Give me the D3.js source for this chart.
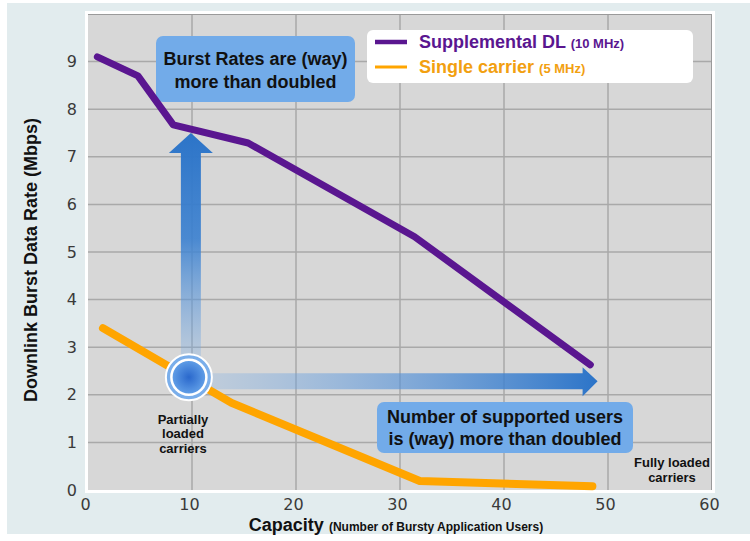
<!DOCTYPE html>
<html>
<head>
<meta charset="utf-8">
<script src="https://cdn.jsdelivr.net/npm/d3@7"></script>
<style>
  html, body { margin: 0; padding: 0; background: #ffffff; }
  svg { display: block; }
</style>
</head>
<body>
<svg id="chart" width="750" height="541"></svg>
<script>
// ---------- data ----------
const xTicks = [0, 10, 20, 30, 40, 50, 60];
const yTicks = [0, 1, 2, 3, 4, 5, 6, 7, 8, 9];
const supplementalX = [0.9, 4.8, 8.2, 15.4, 31.4, 48.3];
const supplementalY = [9.1, 8.7, 7.67, 7.29, 5.32, 2.63];
const singleX = [1.44, 13.8, 31.9, 48.5];
const singleY = [3.4, 1.83, 0.19, 0.08];
const seriesNames = ["Supplemental DL", "Single carrier"];
const seriesUnits = ["(10 MHz)", "(5 MHz)"];
const focusPoint = [9.7, 2.37];     // "Partially loaded carriers"
const burstArrowTipY = 7.5;          // vertical arrow tip (Mbps)
const usersArrowTipX = 49.0;         // horizontal arrow tip (users)

// ---------- layout ----------
const svg = d3.select("#chart");
const plot = { left: 88, right: 712, top: 14, bottom: 490 };
const x = d3.scaleLinear().domain([0, 60]).range([plot.left, plot.right]);
const y = d3.scaleLinear().domain([0, 10]).range([plot.bottom, plot.top]);
const purple = "#5a1690";
const orange = "#ffa500";
const sans = "'Liberation Sans', Arial, sans-serif";

const defs = svg.append("defs");
const vg = defs.append("linearGradient").attr("id", "vgrad")
  .attr("x1", 0).attr("y1", 0).attr("x2", 0).attr("y2", 1);
vg.append("stop").attr("offset", "0%").attr("stop-color", "#2c74c8").attr("stop-opacity", 1);
vg.append("stop").attr("offset", "45%").attr("stop-color", "#3a80d0").attr("stop-opacity", 0.9);
vg.append("stop").attr("offset", "100%").attr("stop-color", "#7fb0e6").attr("stop-opacity", 0.25);
const hg = defs.append("linearGradient").attr("id", "hgrad")
  .attr("x1", 0).attr("y1", 0).attr("x2", 1).attr("y2", 0);
hg.append("stop").attr("offset", "0%").attr("stop-color", "#7fb0e6").attr("stop-opacity", 0.25);
hg.append("stop").attr("offset", "40%").attr("stop-color", "#5d98dc").attr("stop-opacity", 0.55);
hg.append("stop").attr("offset", "100%").attr("stop-color", "#2c74c8").attr("stop-opacity", 1);
const rg = defs.append("radialGradient").attr("id", "core");
rg.append("stop").attr("offset", "0%").attr("stop-color", "#2a68cc");
rg.append("stop").attr("offset", "100%").attr("stop-color", "#62a0e8");

// background panel
svg.append("rect").attr("x", 7).attr("y", 3).attr("width", 743).attr("height", 531)
  .attr("fill", "#e2ecee");

// plot area
svg.append("rect")
  .attr("x", plot.left - 1.5).attr("y", plot.top - 1.5)
  .attr("width", plot.right - plot.left + 3).attr("height", plot.bottom - plot.top + 3)
  .attr("fill", "#d7d7d7").attr("stroke", "#ffffff").attr("stroke-width", 3);

// grid
const grid = svg.append("g").attr("stroke", "#a9a9a9").attr("stroke-width", 1.5);
grid.selectAll("line.h").data(yTicks.filter(d => d > 0)).join("line")
  .attr("x1", plot.left).attr("x2", plot.right)
  .attr("y1", d => y(d)).attr("y2", d => y(d));
grid.selectAll("line.v").data(xTicks.filter(d => d > 0 && d < 60)).join("line")
  .attr("y1", plot.top).attr("y2", plot.bottom)
  .attr("x1", d => x(d)).attr("x2", d => x(d));
svg.append("line").attr("x1", plot.left).attr("x2", plot.right)
  .attr("y1", plot.top + 0.5).attr("y2", plot.top + 0.5).attr("stroke", "#9a9a9a").attr("stroke-width", 1);
svg.append("line").attr("x1", plot.right - 0.5).attr("x2", plot.right - 0.5)
  .attr("y1", plot.top).attr("y2", plot.bottom).attr("stroke", "#9a9a9a").attr("stroke-width", 1);

// axes tick labels
const yAxis = d3.axisLeft(y).tickValues(yTicks).tickSize(0).tickPadding(11);
const gy = svg.append("g").attr("transform", `translate(${plot.left},0)`).call(yAxis);
gy.select(".domain").remove();
gy.selectAll("text").attr("font-family", "'DejaVu Sans', Verdana, sans-serif")
  .attr("font-size", 16).attr("fill", "#3a3a3a");

const xAxis = d3.axisBottom(x).tickValues(xTicks).tickSize(0).tickPadding(9);
const gx = svg.append("g").attr("transform", `translate(-3,${plot.bottom})`).call(xAxis);
gx.select(".domain").remove();
gx.selectAll("text").attr("font-family", "'DejaVu Sans', Verdana, sans-serif")
  .attr("font-size", 16).attr("fill", "#3a3a3a");

// axis titles
svg.append("text")
  .attr("transform", "translate(37,260) rotate(-90)")
  .attr("text-anchor", "middle")
  .attr("font-family", sans).attr("font-weight", "bold").attr("font-size", 18)
  .attr("fill", "#111").text("Downlink Burst Data Rate (Mbps)");
const xt = svg.append("text").attr("x", 396).attr("y", 531).attr("text-anchor", "middle")
  .attr("font-family", sans).attr("font-weight", "bold").attr("fill", "#111");
xt.append("tspan").attr("font-size", 18).text("Capacity ");
xt.append("tspan").attr("font-size", 12).text("(Number of Bursty Application Users)");

// annotation boxes
function box(x0, y0, w, h, lines, baselines) {
  svg.append("rect").attr("x", x0).attr("y", y0).attr("width", w).attr("height", h)
    .attr("rx", 7).attr("fill", "#72abe9");
  lines.forEach((t, i) => {
    svg.append("text").attr("x", x0 + w / 2).attr("y", baselines[i])
      .attr("text-anchor", "middle").attr("font-family", sans)
      .attr("font-weight", "bold").attr("font-size", 18).attr("fill", "#111").text(t);
  });
}
box(156, 36, 199, 66, ["Burst Rates are (way)", "more than doubled"], [65, 88]);
box(377, 402, 256, 51, ["Number of supported users", "is (way) more than doubled"], [423, 445]);

// arrows
const cx = x(focusPoint[0]), cy = y(focusPoint[1]);
const vTip = y(burstArrowTipY);
const vx = cx + 2;
svg.append("path")
  .attr("d", `M${vx - 10},${cy - 10} L${vx - 10},${vTip + 20} L${vx - 22},${vTip + 20} L${vx},${vTip} L${vx + 22},${vTip + 20} L${vx + 10},${vTip + 20} L${vx + 10},${cy - 10} Z`)
  .attr("fill", "url(#vgrad)");
const hTip = x(usersArrowTipX);
const hy = cy + 4;
svg.append("path")
  .attr("d", `M${cx + 10},${hy - 8} L${hTip - 15},${hy - 8} L${hTip - 15},${hy - 14} L${hTip},${hy} L${hTip - 15},${hy + 15} L${hTip - 15},${hy + 8} L${cx + 10},${hy + 8} Z`)
  .attr("fill", "url(#hgrad)");

// series lines
const line = d3.line().x(d => x(d[0])).y(d => y(d[1]));
const supData = supplementalX.map((v, i) => [v, supplementalY[i]]);
const sinData = singleX.map((v, i) => [v, singleY[i]]);
svg.append("path").datum(sinData).attr("d", line).attr("fill", "none")
  .attr("stroke", orange).attr("stroke-width", 8).attr("stroke-linejoin", "round").attr("stroke-linecap", "round");
svg.append("path").datum(supData).attr("d", line).attr("fill", "none")
  .attr("stroke", purple).attr("stroke-width", 7).attr("stroke-linejoin", "round").attr("stroke-linecap", "round");

// focus circle
svg.append("circle").attr("cx", cx).attr("cy", cy).attr("r", 23)
  .attr("fill", "#7aaeea").attr("stroke", "#ffffff").attr("stroke-width", 2);
svg.append("circle").attr("cx", cx).attr("cy", cy).attr("r", 17.5)
  .attr("fill", "url(#core)").attr("stroke", "#ffffff").attr("stroke-width", 2.5);

// small labels
function multi(xc, baselines, lines) {
  lines.forEach((t, i) => svg.append("text").attr("x", xc).attr("y", baselines[i])
    .attr("text-anchor", "middle").attr("font-family", sans).attr("font-weight", "bold")
    .attr("font-size", 13).attr("fill", "#111").text(t));
}
multi(183, [424, 438, 453], ["Partially", "loaded", "carriers"]);
multi(672, [467, 482], ["Fully loaded", "carriers"]);

// legend
svg.append("rect").attr("x", 367).attr("y", 30).attr("width", 326).attr("height", 53)
  .attr("rx", 6).attr("fill", "#ffffff");
const legendColors = [purple, "#f2a010"];
const legendLineColors = [purple, orange];
[0, 1].forEach(i => {
  const ly = 42 + i * 25;
  svg.append("line").attr("x1", 375).attr("x2", 407).attr("y1", ly).attr("y2", ly)
    .attr("stroke", legendLineColors[i]).attr("stroke-width", i === 0 ? 4.5 : 3);
  const t = svg.append("text").attr("x", 419).attr("y", ly + 6)
    .attr("font-family", sans).attr("font-weight", "bold").attr("fill", legendColors[i]);
  t.append("tspan").attr("font-size", 18).text(seriesNames[i] + " ");
  t.append("tspan").attr("font-size", 13).text(seriesUnits[i]);
});
</script>
</body>
</html>
